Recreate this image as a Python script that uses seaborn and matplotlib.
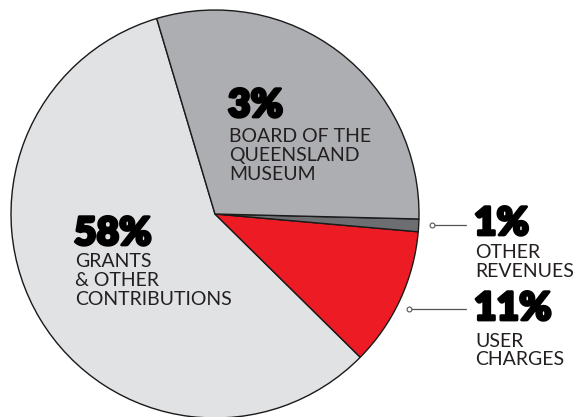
import matplotlib
matplotlib.use('Agg')
import matplotlib.pyplot as plt
import matplotlib.patheffects as pe
import seaborn as sns

sns.set_theme(style='white')
plt.rcParams['font.family'] = ['Lato', 'DejaVu Sans']

# ===== Data =====
categories = ['GRANTS\n& OTHER\nCONTRIBUTIONS', 'USER\nCHARGES',
              'OTHER\nREVENUES', 'BOARD OF THE\nQUEENSLAND\nMUSEUM']
shares = [58, 11, 1, 30]
pct_labels = ['58%', '11%', '1%', '3%']
colors = ['#e1e2e4', '#ed1c24', '#6d6e71', '#adaeb1']

W, H = 584, 417
fig = plt.figure(figsize=(W / 100, H / 100), dpi=100)
ax = fig.add_axes([0, 0, 1, 1])

ax.pie(shares, colors=colors, startangle=106.6, counterclock=True,
       center=(215, H - 214), radius=204,
       wedgeprops=dict(edgecolor='#1a1a1a', linewidth=1.0))
ax.set_xlim(0, W)
ax.set_ylim(0, H)
ax.set_aspect('equal')
ax.axis('off')

heavy = [pe.withStroke(linewidth=2.0, foreground='black')]


def label(x, y_pct, y_first, gap, pct, lines):
    # y values are pixel rows from the top (baselines)
    ax.text(x - 1, H - y_pct, pct, fontsize=28, fontweight='heavy',
            color='black', va='baseline', ha='left', path_effects=heavy)
    for i, ln in enumerate(lines):
        ax.text(x, H - (y_first + i * gap), ln, fontsize=14,
                fontweight='normal', color='#231f20', va='baseline', ha='left')


label(229, 117, 142, 19, pct_labels[3], categories[3].split('\n'))
label(75, 245, 267, 19, pct_labels[0], categories[0].split('\n'))
label(475, 235, 258, 19, pct_labels[2], categories[2].split('\n'))
label(475, 320, 347, 18, pct_labels[1], categories[1].split('\n'))

# leader lines
for x0, y0 in [(432, 225), (409, 309)]:
    ax.plot([x0, 466], [H - y0, H - y0], color='#555555', lw=0.9,
            marker='o', markevery=[0], markersize=3.5,
            markerfacecolor='white', markeredgecolor='#555555', mew=0.8)

fig.savefig('out.png', dpi=100)
